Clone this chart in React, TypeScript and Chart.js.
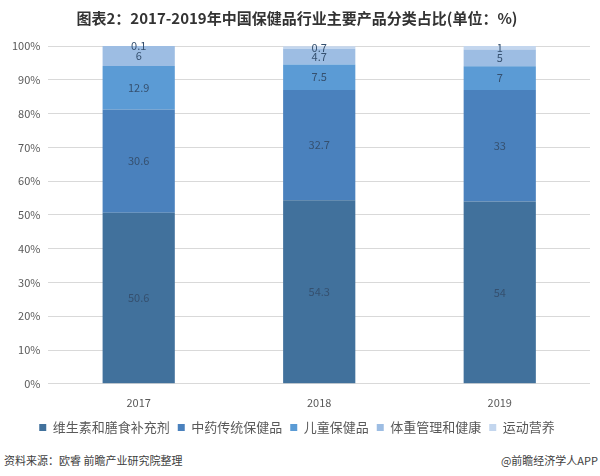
import { useEffect, useRef } from "react"
import { Chart, registerables } from "chart.js"
import type { Plugin } from "chart.js"

Chart.register(...registerables)

const years = ["2017", "2018", "2019"]
const seriesNames = ["维生素和膳食补充剂", "中药传统保健品", "儿童保健品", "体重管理和健康", "运动营养"]
const vitamins = [50.6, 54.3, 54]
const herbal = [30.6, 32.7, 33]
const children = [12.9, 7.5, 7]
const weight = [6, 4.7, 5]
const sports = [0.1, 0.7, 1]
const yTicks = [0, 10, 20, 30, 40, 50, 60, 70, 80, 90, 100]

const colors = ["#41719c", "#4a81bd", "#5b9bd5", "#9dbde3", "#c3d6ee"]
const font = '"Noto Sans CJK SC", "Noto Sans", sans-serif'

// value labels centred in each stacked segment
const segmentLabels: Plugin<"bar"> = {
  id: "segmentLabels",
  afterDatasetsDraw(chart) {
    const ctx = chart.ctx
    ctx.save()
    ctx.font = `11px ${font}`
    ctx.fillStyle = "#35506f"
    ctx.textAlign = "center"
    ctx.textBaseline = "middle"
    chart.data.datasets.forEach((ds, i) => {
      const meta = chart.getDatasetMeta(i)
      meta.data.forEach((el: any, j) => {
        const v = ds.data[j] as number
        ctx.fillText(String(v), el.x, (el.y + el.base) / 2)
      })
    })
    ctx.restore()
  },
}

export default function App() {
  const chartRef = useRef<HTMLCanvasElement>(null)
  const chartInstance = useRef<Chart | null>(null)

  useEffect(() => {
    if (!chartRef.current) return
    if (chartInstance.current) chartInstance.current.destroy()
    const ctx = chartRef.current.getContext("2d")
    if (!ctx) return

    const values = [vitamins, herbal, children, weight, sports]

    chartInstance.current = new Chart(ctx, {
      type: "bar",
      data: {
        labels: years,
        datasets: seriesNames.map((name, i) => ({
          label: name,
          data: values[i],
          backgroundColor: colors[i],
          borderWidth: 0,
          categoryPercentage: 0.8,
          barPercentage: 0.5,
        })),
      },
      options: {
        animation: false,
        responsive: true,
        maintainAspectRatio: false,
        layout: { padding: { left: 4, right: 10, top: 0, bottom: 0 } },
        plugins: {
          title: {
            display: true,
            text: "图表2：2017-2019年中国保健品行业主要产品分类占比(单位：%)",
            color: "#333333",
            font: { family: font, size: 15, weight: "bold" },
            padding: { top: 9, bottom: 19 },
          },
          legend: {
            position: "bottom",
            labels: {
              boxWidth: 7,
              boxHeight: 7,
              padding: 8,
              color: "#595959",
              font: { family: font, size: 13 },
            },
          },
          tooltip: { enabled: false },
        },
        scales: {
          x: {
            stacked: true,
            grid: { display: false },
            border: { display: false },
            ticks: { color: "#595959", font: { family: font, size: 11 }, padding: 4 },
          },
          y: {
            stacked: true,
            min: 0,
            max: 100,
            afterBuildTicks: (axis) => {
              axis.ticks = yTicks.map((v) => ({ value: v }))
            },
            grid: { color: "#d9d9d9", drawTicks: false },
            border: { display: false },
            ticks: {
              color: "#595959",
              font: { family: font, size: 11 },
              padding: 8,
              callback: (v) => `${v}%`,
            },
          },
        },
      },
      plugins: [segmentLabels],
    })

    return () => {
      if (chartInstance.current) chartInstance.current.destroy()
    }
  }, [])

  return (
    <div
      style={{
        position: "fixed",
        left: 0,
        top: 0,
        width: 600,
        height: 476,
        background: "#ffffff",
        fontFamily: font,
      }}
    >
      <div style={{ position: "relative", width: 600, height: 444 }}>
        <canvas ref={chartRef} />
      </div>
      <div
        style={{
          position: "absolute",
          left: 4,
          right: 2,
          top: 452,
          display: "flex",
          justifyContent: "space-between",
          fontSize: 11,
          color: "#404040",
        }}
      >
        <span>资料来源：欧睿 前瞻产业研究院整理</span>
        <span>@前瞻经济学人APP</span>
      </div>
    </div>
  )
}
